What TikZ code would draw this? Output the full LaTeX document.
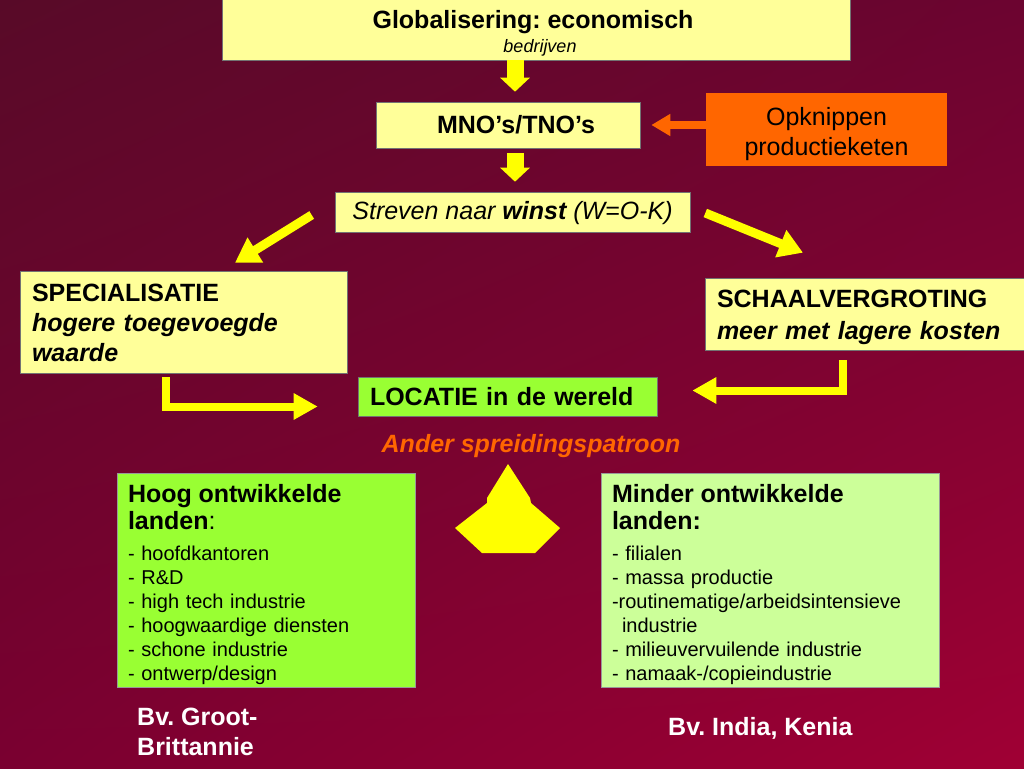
\documentclass[tikz,border=0pt]{standalone}
\usepackage{fontspec}
\setmainfont{Liberation Sans}
\usetikzlibrary{arrows.meta,positioning,calc,shadings}
\definecolor{bgtl}{HTML}{580A28}
\definecolor{bgtr}{HTML}{6C0430}
\definecolor{bgbl}{HTML}{7A0030}
\definecolor{bgbr}{HTML}{A00034}
\definecolor{paleyel}{HTML}{FFFF99}
\definecolor{lime}{HTML}{99FF33}
\definecolor{palegreen}{HTML}{CCFF99}
\definecolor{oranje}{HTML}{FF6600}
\definecolor{geel}{HTML}{FFFF00}
\newcommand{\kop}{\fontsize{25}{30}\selectfont\bfseries}
\frenchspacing

\begin{document}
\begin{tikzpicture}[x=1pt,y=-1pt,
  ybox/.style={draw=black!55,line width=0.6pt,fill=paleyel,inner sep=0pt,
               align=center,font=\kop},
  gbox/.style={ybox,fill=lime},
  obox/.style={fill=oranje,inner sep=0pt,align=center,
               font=\fontsize{25}{30}\selectfont},
  listbox/.style={draw=black!40,line width=0.6pt,inner xsep=11pt,inner ysep=0pt,
               align=left,minimum height=214pt,font=\fontsize{20}{24}\selectfont},
  wtxt/.style={text=white,align=left,font=\kop,inner sep=0pt},
  darr/.style={draw=geel,line width=17pt,-{Triangle[width=29pt,length=14pt]}},
  yarr/.style={draw=geel,line width=9pt,-{Triangle[width=28pt,length=24pt]}},
  larr/.style={draw=geel,line width=8pt,-{Triangle[width=25pt,length=24pt]}},
  oarr/.style={draw=oranje,line width=8pt,-{Triangle[width=21pt,length=19pt]}}]

  \shade[upper left=bgtl,upper right=bgtr,lower left=bgbl,lower right=bgbr]
    (0,0) rectangle (1024,768);
  \useasboundingbox (0,0) rectangle (1024,768);

  \node[ybox,minimum width=628pt,minimum height=64pt] (glob) at (536,28) {};
  \node[font=\kop] (globt) at (533,22) {Globalisering: economisch};
  \node[font=\fontsize{18}{22}\selectfont\itshape] (globs) at (540,48) {bedrijven};
  \node[ybox,minimum width=264pt,minimum height=46pt] (mno) at (508,125)
       {\hspace*{16pt}MNO’s/TNO’s};
  \node[obox,minimum width=241pt,minimum height=73pt] (opk) at (826.5,129.5)
       {\rule{0pt}{28pt}Opknippen\\productieketen};
  \node[ybox,minimum width=355pt,minimum height=40pt,
        font=\fontsize{25}{30}\selectfont\itshape] (strev) at (512.5,212)
       {\rule{0pt}{21pt}Streven naar \textbf{winst} (W=O-K)};
  \node[ybox,text width=303pt,inner xsep=12pt,minimum height=102pt,align=left]
       (spec) at (183.5,322)
       {\rule{0pt}{20pt}SPECIALISATIE\\\textit{hogere toegevoegde}\\\textit{waarde}};
  \node[ybox,text width=295pt,inner xsep=12pt,minimum height=72pt,align=left]
       (schaal) at (864.5,314)
       {\rule{0pt}{24pt}SCHAALVERGROTING\\[2pt]\textit{meer met lagere kosten}};
  \node[gbox,text width=275pt,inner xsep=12pt,minimum height=39pt,align=left]
       (loc) at (507.5,396.5) {LOCATIE in de wereld};
  \node[font=\kop\itshape,text=oranje] (ander) at (531,446) {Ander spreidingspatroon};

  \node[listbox,fill=lime,text width=276pt] (hoog) at (266,580)
       {{\kop\rule{0pt}{26.5pt}Hoog ontwikkelde}\\[3pt]{\kop landen}{\fontsize{25}{30}\selectfont:}\\[7pt]
        - hoofdkantoren\\- R\&D\\- high tech industrie\\- hoogwaardige diensten\\
        - schone industrie\\- ontwerp/design};
  \node[listbox,fill=palegreen,text width=316pt] (minder) at (770,580)
       {{\kop\rule{0pt}{26.5pt}Minder ontwikkelde}\\[3pt]{\kop landen:}\\[7pt]
        - filialen\\- massa productie\\-routinematige/arbeidsintensieve\\
        \hspace*{10pt}industrie\\- milieuvervuilende industrie\\- namaak-/copieindustrie};
  \node[wtxt,anchor=west] (bvgb) at (137,732) {Bv. Groot-\\Brittannie};
  \node[wtxt,anchor=west] (bvin) at (668,728) {Bv. India, Kenia};

  \draw[darr] ($(mno.north |- glob.south)+(7,0)$) -- ($(mno.north)+(7,-10)$);
  \draw[darr] ($(mno.south)+(7,5)$) -- ($(strev.north)+(2.5,-10)$);
  \draw[oarr] (opk.west |- mno.east) -- ($(mno.east)+(11,0)$);
  \draw[yarr] ($(strev.west)+(-23,3)$) -- ($(spec.north)+(51.5,-8)$);
  \draw[yarr] ($(strev.east)+(15,1)$) -- ($(schaal.north)+(-61.5,-25)$);
  \draw[larr] ($(spec.south west)+(146,4)$) |- ($(loc.west)+(-40,10)$);
  \draw[larr] ($(schaal.south west)+(138,10)$) |- ($(loc.east)+(35,-6)$);

  \fill[geel] (508,464) -- (487,498) -- (487,503) -- (455,528) -- (482,553)
    -- (535,553) -- (560,528) -- (531,503) -- (530,498) -- cycle;
\end{tikzpicture}
\end{document}
